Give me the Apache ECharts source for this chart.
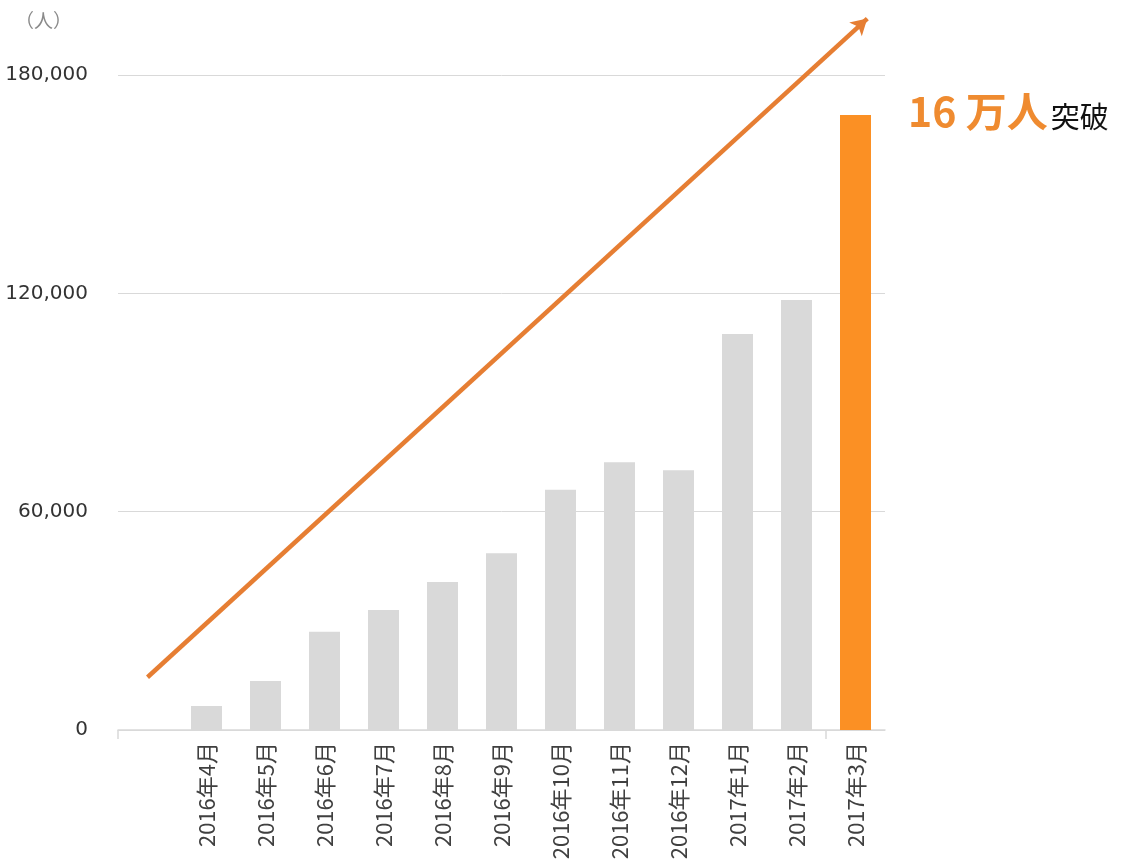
<!DOCTYPE html>
<html><head><meta charset="utf-8">
<script src="https://cdn.jsdelivr.net/npm/echarts@6/dist/echarts.min.js"></script>
<style>html,body{margin:0;padding:0;background:#fff}#c{width:1140px;height:864px}</style>
</head><body><div id="c"></div>
<script>
const categories = ['', '2016年4月','2016年5月','2016年6月','2016年7月','2016年8月','2016年9月','2016年10月','2016年11月','2016年12月','2017年1月','2017年2月','2017年3月'];
const users = [null, 6600, 13500, 27000, 33000, 40700, 48600, 66000, 73600, 71400, 108800, 118200, 169000];
const yTicks = [0, 60000, 120000, 180000];
const xTickPositions = [-0.5, 11.5];
const arrowStart = [0, 14500];
const arrowEnd = [12.2, 195500];
const unitLabel = '（人）';
const noteMain = '16 万人';
const noteSub = '突破';

const GRID = {left:118, right:255, top:75, bottom:134};
const H = 864;
const plotH = H - GRID.top - GRID.bottom;
const overlayTop = 5;
const overlayMax = yTicks[yTicks.length-1] * (H - GRID.bottom - overlayTop) / plotH;

const chart = echarts.init(document.getElementById('c'));
chart.setOption({
  animation:false,
  title:[
    {text:unitLabel, left:10, top:6, textStyle:{fontFamily:'Noto Sans CJK JP', fontSize:19, fontWeight:'normal', color:'#8a8a8a'}},
    {text:'{a|'+noteMain+'}{b|'+noteSub+'}', left:903, top:86,
     textStyle:{rich:{
       a:{fontFamily:'Noto Sans CJK JP', fontSize:41, fontWeight:'bold', color:'#EF8B30'},
       b:{fontFamily:'Noto Sans CJK JP', fontSize:29, fontWeight:'normal', color:'#111', padding:[10,0,0,3]}
     }}}
  ],
  grid:[
    Object.assign({}, GRID),
    {left:GRID.left, right:GRID.right, top:overlayTop, bottom:GRID.bottom}
  ],
  xAxis:[
    {type:'category', data:categories, gridIndex:0,
     axisLine:{lineStyle:{color:'#d9d9d9', width:1.5}},
     axisTick:{show:false},
     axisLabel:{interval:0, rotate:90, margin:12, fontSize:22, color:'#404040', fontFamily:'Noto Sans CJK JP'}},
    {type:'value', gridIndex:1, min:-0.5, max:12.5, show:true,
     axisLine:{show:false}, axisLabel:{show:false}, splitLine:{show:false},
     axisTick:{show:true, length:9, customValues:xTickPositions, lineStyle:{color:'#d9d9d9', width:1.5}}}
  ],
  yAxis:[
    {type:'value', gridIndex:0, min:0, max:yTicks[yTicks.length-1], interval:yTicks[1]-yTicks[0],
     axisLine:{show:false}, axisTick:{show:false},
     axisLabel:{margin:30, fontSize:20, color:'#333', fontFamily:'DejaVu Sans',
       formatter:v=>v.toLocaleString('en-US')},
     splitLine:{lineStyle:{color:'#d9d9d9', width:1}}},
    {type:'value', gridIndex:1, min:0, max:overlayMax, show:false, splitLine:{show:false}}
  ],
  series:[
    {type:'bar', xAxisIndex:0, yAxisIndex:0, barWidth:31,
     data:users.map((v,i)=>({value:v, itemStyle:{color: i===users.length-1 ? '#FB9024' : '#D9D9D9'}}))},
    {type:'line', xAxisIndex:1, yAxisIndex:1, data:[], silent:true,
     markLine:{silent:true, symbol:['none','arrow'], symbolSize:[14,16], label:{show:false},
       lineStyle:{color:'#E67E33', width:4.5, type:'solid'},
       data:[[{coord:arrowStart},{coord:arrowEnd}]]}}
  ]
});
</script></body></html>
